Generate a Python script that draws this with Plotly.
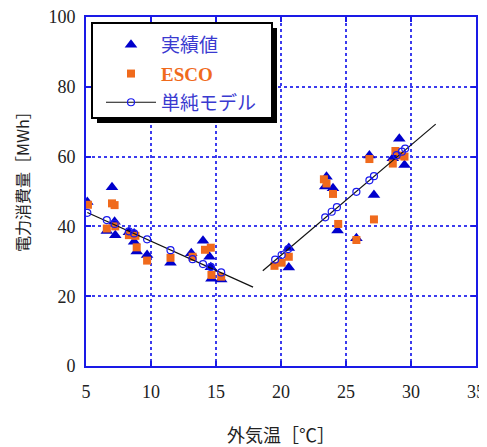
import plotly.graph_objects as go

# Actual (実績値)
act_x = [5.1, 6.6, 7.0, 7.2, 7.25, 8.3, 8.7, 8.7, 8.9, 9.7, 11.5, 13.1, 14.0, 14.5, 14.6, 14.65, 15.4,
         20.6, 20.6, 23.5, 23.4, 24.0, 24.35, 25.8, 26.8, 27.15, 28.6, 28.8, 29.1, 29.5]
act_y = [47.0, 38.7, 51.2, 41.3, 37.5, 38.3, 38.0, 35.6, 32.8, 31.8, 29.6, 32.3, 35.9, 31.3, 28.3, 25.0, 24.8,
         33.8, 28.2, 54.2, 51.4, 50.9, 38.8, 36.6, 60.3, 49.0, 59.5, 60.2, 65.1, 57.6]

# ESCO
esco_x = [5.15, 6.6, 7.0, 7.2, 7.25, 8.3, 8.8, 8.9, 9.7, 11.5, 13.2, 14.15, 14.6, 14.65, 15.4,
          19.5, 20.05, 20.6, 23.3, 23.5, 24.0, 24.4, 25.8, 26.8, 27.15, 28.6, 28.8, 29.2, 29.5]
esco_y = [46.2, 39.4, 46.6, 46.1, 40.0, 37.5, 37.3, 34.0, 30.2, 31.0, 31.3, 33.3, 33.9, 26.1, 25.6,
          28.7, 29.6, 31.3, 53.5, 52.3, 49.3, 40.7, 36.1, 59.3, 42.0, 58.0, 61.6, 60.3, 60.0]

# Simple model (単純モデル) points
mod_x = [5.1, 6.6, 7.2, 8.3, 8.7, 9.7, 11.5, 13.2, 14.0, 14.6, 15.4,
         19.55, 20.05, 20.55, 23.4, 23.9, 24.3, 25.8, 26.8, 27.15, 28.9, 29.3, 29.55]
mod_y = [43.9, 41.8, 40.7, 38.6, 38.0, 36.3, 33.2, 30.6, 29.2, 28.4, 26.8,
         30.5, 31.8, 33.5, 42.6, 44.2, 45.5, 49.9, 53.2, 54.4, 60.4, 61.4, 62.3]

# Model regression lines (winter / summer)
line_w_x = [5.1, 17.85]
line_w_y = [44.0, 22.6]
line_s_x = [18.6, 31.9]
line_s_y = [27.3, 69.3]

x_ticks = [5, 10, 15, 20, 25, 30, 35]
y_ticks = [0, 20, 40, 60, 80, 100]

BLUE = "#0000cc"
ORANGE = "#f06a1c"
TXTBLUE = "#3a3ad0"

fig = go.Figure()
fig.add_trace(go.Scatter(x=act_x, y=act_y, mode="markers", name=f'<span style="color:{TXTBLUE}">実績値</span>',
                         marker=dict(symbol="triangle-up", size=11, color=BLUE, line=dict(width=0)),
                         legendgroup="a", legendrank=1))
fig.add_trace(go.Scatter(x=esco_x, y=esco_y, mode="markers",
                         name=f'<span style="color:{ORANGE};font-family:Liberation Serif"><b>ESCO</b></span>',
                         marker=dict(symbol="square", size=8, color=ORANGE, line=dict(width=0)),
                         legendgroup="b", legendrank=2))
for lx, ly in [(line_w_x, line_w_y), (line_s_x, line_s_y)]:
    fig.add_trace(go.Scatter(x=lx, y=ly, mode="lines", line=dict(color="#111111", width=1.2),
                             showlegend=False, hoverinfo="skip"))
fig.add_trace(go.Scatter(x=mod_x, y=mod_y, mode="markers", showlegend=False,
                         marker=dict(symbol="circle-open", size=7, color="#1a1aee", line=dict(width=1.2))))
fig.add_trace(go.Scatter(x=[None], y=[None], mode="lines+markers", name=f'<span style="color:{TXTBLUE}">単純モデル</span>',
                         line=dict(color="#111111", width=1.2),
                         marker=dict(symbol="circle-open", size=7, color="#1a1aee", line=dict(width=1.2)),
                         legendgroup="c", legendrank=3))

axis_common = dict(showline=True, linecolor="#1a1ae6", linewidth=2, mirror="allticks",
                   ticks="inside", ticklen=5, tickcolor="#1a1ae6", tickwidth=1.5,
                   showgrid=True, gridcolor="#3c3cee", griddash="dot", gridwidth=1.5,
                   zeroline=False, automargin=False, ticklabeloverflow="allow",
                   tickfont=dict(family="Liberation Serif", size=18, color="#222222"))

fig.update_xaxes(range=[5, 35], tickvals=x_ticks, ticklabelstandoff=8,
                 title=dict(text="外気温［℃］", font=dict(family="Noto Sans CJK JP", size=18, color="#222222"),
                            standoff=29), **axis_common)
fig.update_yaxes(range=[0, 100], tickvals=y_ticks, ticklabelstandoff=5, **axis_common)

# screenshot geometry of plot area (page body adds an 8px offset)
OFF = 8
L, T, W, H = 86, 17, 390, 349


def px(xs, ys):
    return (xs - L) / W, (T + H - ys) / H


sx0, sy0 = px(97, 123)
sx1, sy1 = px(277, 28)
bx0, by0 = px(92, 118)
bx1, by1 = px(272, 23)
lgx, lgy = px(101, 26)
ytx, yty = px(22, 178)

fig.update_layout(
    width=487 - OFF, height=447 - OFF,
    margin=dict(l=L - OFF, r=487 - L - W, t=T - OFF, b=447 - T - H),
    plot_bgcolor="white", paper_bgcolor="white",
    showlegend=True,
    legend=dict(x=lgx, y=lgy, xanchor="left", yanchor="top",
                bgcolor="rgba(0,0,0,0)", borderwidth=0,
                font=dict(family="Noto Sans CJK JP", size=19),
                traceorder="grouped", tracegroupgap=1, itemwidth=50),
    shapes=[dict(type="rect", xref="paper", yref="paper", layer="above",
                 x0=sx0, x1=sx1, y0=sy0, y1=sy1, fillcolor="black", line=dict(width=0)),
            dict(type="rect", xref="paper", yref="paper", layer="above",
                 x0=bx0, x1=bx1, y0=by0, y1=by1, fillcolor="white", line=dict(color="black", width=2))],
    annotations=[dict(text="電力消費量［MWh］", xref="paper", yref="paper", x=ytx, y=yty,
                      xanchor="center", yanchor="middle", textangle=-90, showarrow=False,
                      font=dict(family="Noto Sans CJK JP", size=16, color="#222222"))],
)

fig.write_html("out.html")
